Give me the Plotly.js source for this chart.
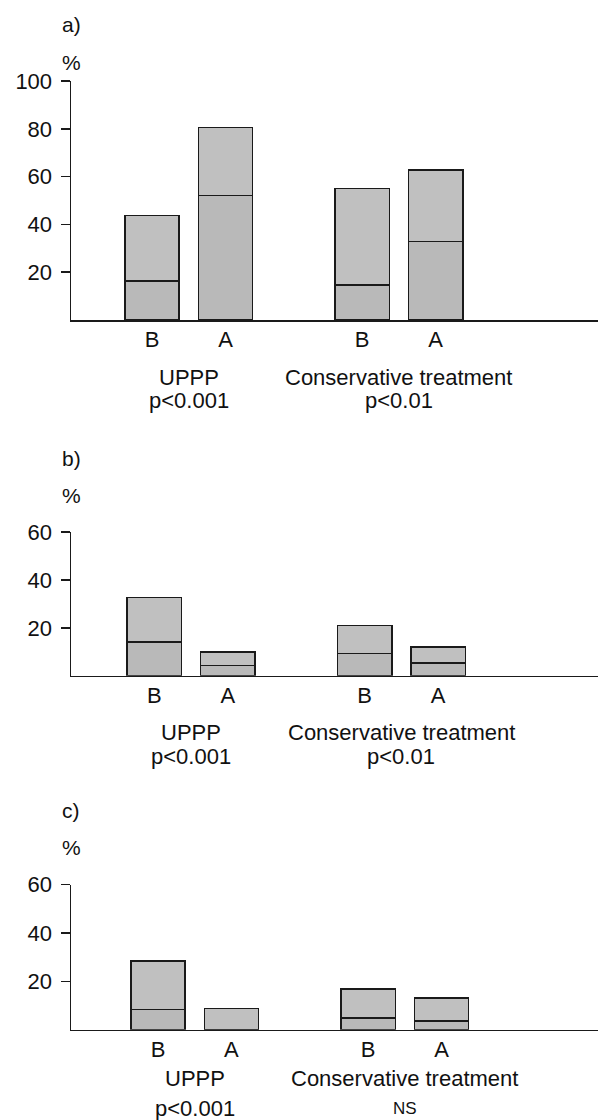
<!DOCTYPE html>
<html>
<head>
<meta charset="utf-8">
<script src="https://cdn.plot.ly/plotly-3.0.1.min.js"></script>
<style>html,body{margin:0;padding:0;background:#fff;}#chart{width:600px;height:1120px;}</style>
</head>
<body>
<div id="chart"></div>
<script>
// ---- data (order: UPPP-B, UPPP-A, Conservative-B, Conservative-A) ----
const conditions = ['B', 'A'];
const groups = ['UPPP', 'Conservative treatment'];
const panelLabels = ['a)', 'b)', 'c)'];
const pValues = [['p<0.001', 'p<0.01'], ['p<0.001', 'p<0.01'], ['p<0.001', 'NS']];
const yTicks = [[20, 40, 60, 80, 100], [20, 40, 60], [20, 40, 60]];
const yMax = [100, 60, 60];

const totalA = [43.8, 80.6, 55.1, 62.8];
const lowerA = [16.3, 52.0, 14.6, 32.9];
const totalB = [32.7, 10.0, 20.9, 11.9];
const lowerB = [14.1, 4.3, 9.2, 5.4];
const totalC = [28.4, 8.7, 16.8, 13.2];
const lowerC = [8.4, 0, 4.8, 3.5];

const totals = [totalA, totalB, totalC];
const lowers = [lowerA, lowerB, lowerC];

// ---- geometry / style ----
const W = 600, H = 1120;
const groupCenters = [0, 2.86];
const condOffset = [-0.5, 0.5];
const barWidth = 0.74;
const xRanges = [[-1.602, 5.568], [-1.634, 5.536], [-1.684, 5.490]];
// pixel positions of axis top (max) and baseline for each panel
const panelPix = [[81, 320], [532, 675.7], [884.7, 1029.7]];
const colLower = '#b9b9b9';
const colUpper = '#c0c0c0';
const lineCol = '#1a1a1a';
const FONT = 'Liberation Sans, Arial, Helvetica, sans-serif';
const FS = 22;

const xPos = [];
groupCenters.forEach(g => condOffset.forEach(o => xPos.push(g + o)));
const tickText = [];
groups.forEach(() => conditions.forEach(c => tickText.push(c)));

const traces = [];
const layout = {
  width: W, height: H,
  margin: {l: 0, r: 0, t: 0, b: 0},
  paper_bgcolor: '#fff', plot_bgcolor: 'rgba(0,0,0,0)',
  showlegend: false,
  barmode: 'stack',
  bargap: 0,
  font: {family: FONT, size: FS, color: '#111'},
  annotations: []
};

const py = px => 1 - px / H;

for (let p = 0; p < 3; p++) {
  const sfx = p === 0 ? '' : String(p + 1);
  const xa = 'x' + sfx, ya = 'y' + sfx;
  const upper = totals[p].map((t, i) => +(t - lowers[p][i]).toFixed(2));
  traces.push({
    type: 'bar', x: xPos, y: lowers[p], width: barWidth,
    xaxis: xa, yaxis: ya, hoverinfo: 'skip',
    marker: {color: colLower, line: {color: lineCol, width: 1.5}}
  });
  traces.push({
    type: 'bar', x: xPos, y: upper, width: barWidth,
    xaxis: xa, yaxis: ya, hoverinfo: 'skip',
    marker: {color: colUpper, line: {color: lineCol, width: 1.5}}
  });
  const [top, base] = panelPix[p];
  layout['xaxis' + sfx] = {
    domain: [71 / W, 598 / W], range: xRanges[p], anchor: ya,
    showline: true, linecolor: lineCol, linewidth: 1.5,
    showgrid: false, zeroline: false, ticks: '',
    tickmode: 'array', tickvals: xPos, ticktext: tickText,
    tickfont: {family: FONT, size: FS, color: '#111'},
    ticklabelstandoff: -1, fixedrange: true
  };
  layout['yaxis' + sfx] = {
    domain: [py(base), py(top)], range: [0, yMax[p]], anchor: xa,
    showline: true, linecolor: lineCol, linewidth: 1.5,
    showgrid: false, zeroline: false,
    ticks: 'outside', ticklen: 9, tickwidth: 1.5, tickcolor: lineCol,
    tickmode: 'array', tickvals: yTicks[p],
    tickfont: {family: FONT, size: FS, color: '#111'},
    ticklabelstandoff: 4, fixedrange: true
  };
  // panel label and unit
  const labelOffsets = p === 0 ? [-57, -19] : [-74, -37];
  layout.annotations.push({
    text: panelLabels[p], xref: 'paper', yref: 'paper',
    x: 71 / W, y: py(top + labelOffsets[0]), xanchor: 'center', yanchor: 'middle',
    showarrow: false, font: {family: FONT, size: 21, color: '#111'}
  });
  layout.annotations.push({
    text: '%', xref: 'paper', yref: 'paper',
    x: 71 / W, y: py(top + labelOffsets[1]), xanchor: 'center', yanchor: 'middle',
    showarrow: false, font: {family: FONT, size: 21, color: '#111'}
  });
  // group names and p-values
  const nameOff = p === 0 ? 57.5 : (p === 1 ? 56.5 : 49);
  const pOff = p === 0 ? 81 : (p === 1 ? 80.5 : 79);
  groups.forEach((g, gi) => {
    layout.annotations.push({
      text: g, xref: xa, yref: 'paper',
      x: groupCenters[gi], y: py(base + nameOff), xanchor: 'center', yanchor: 'middle',
      showarrow: false, font: {family: FONT, size: FS, color: '#111'}
    });
    const pv = pValues[p][gi];
    layout.annotations.push({
      text: pv, xref: xa, yref: 'paper',
      x: groupCenters[gi], y: py(base + pOff), xanchor: 'center', yanchor: 'middle',
      showarrow: false, font: {family: FONT, size: pv === 'NS' ? 17 : FS, color: '#111'}
    });
  });
}

Plotly.newPlot('chart', traces, layout, {staticPlot: true, displayModeBar: false});
</script>
</body>
</html>
